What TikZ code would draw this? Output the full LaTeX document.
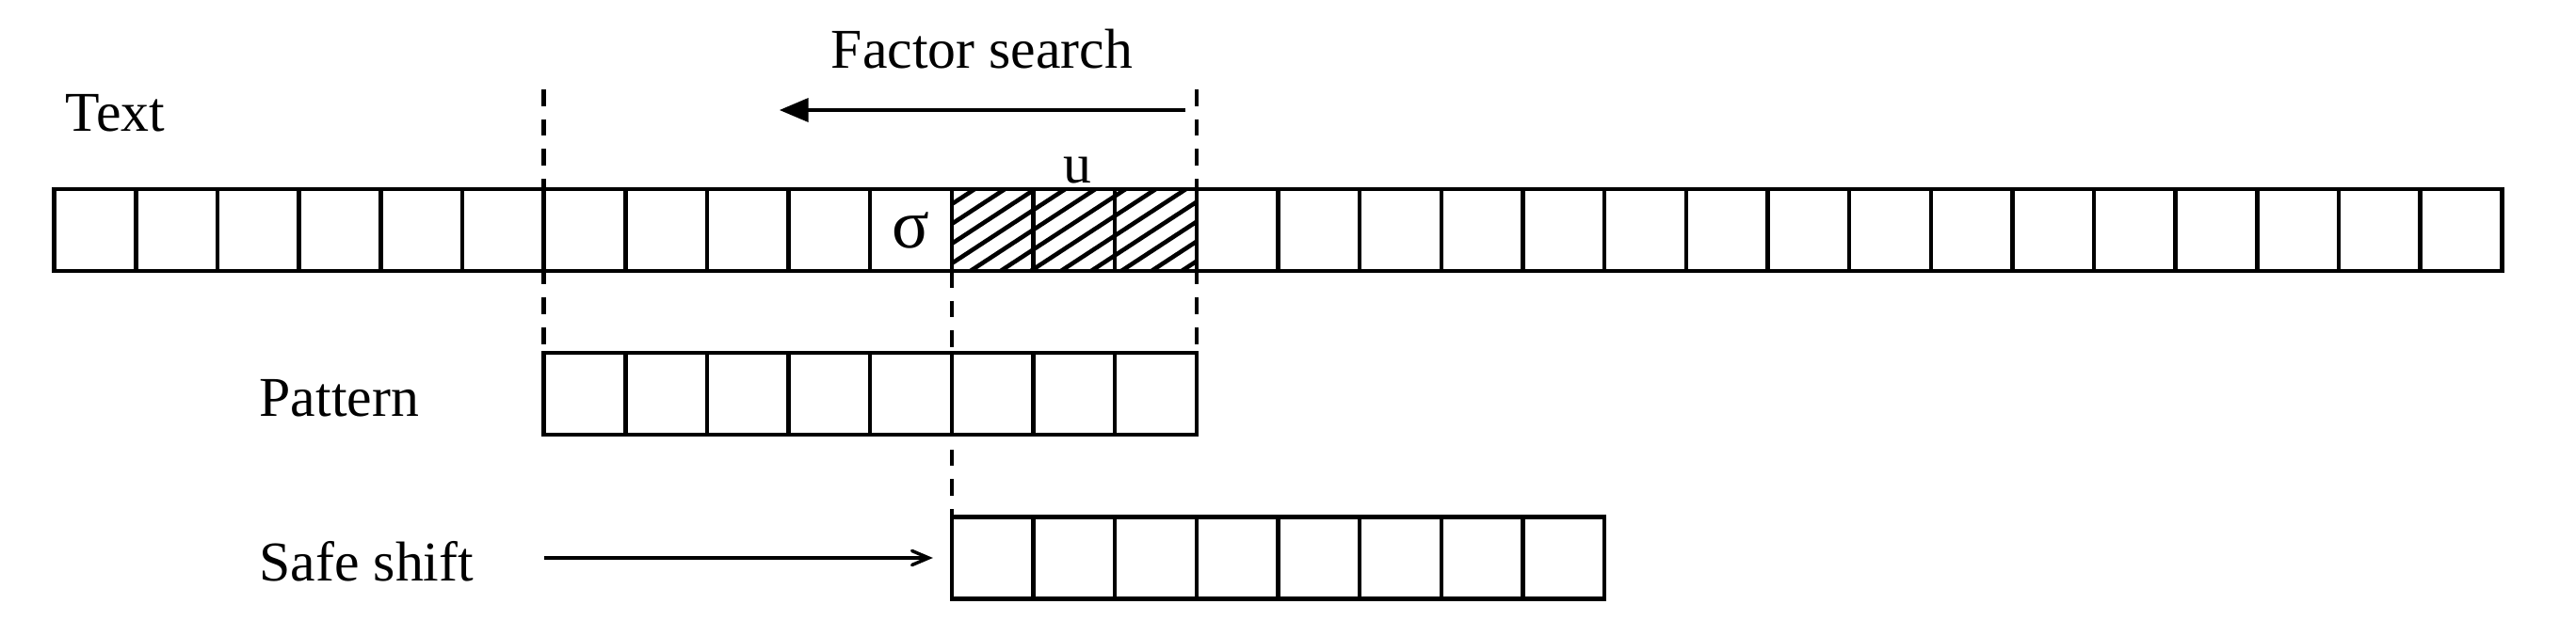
\documentclass[tikz,border=0pt]{standalone}
\usepackage{fontspec}
\setmainfont{Liberation Serif}
\usetikzlibrary{positioning}
\usetikzlibrary{arrows}

\begin{document}
\begin{tikzpicture}[
    font=\fontsize{17}{20}\selectfont,
    cell/.style={draw, rectangle, line width=1.3pt, minimum width=0.8666cm, minimum height=0.87cm, inner sep=0pt, outer sep=0pt},
    guide/.style={line width=1.2pt, dash pattern=on 5pt off 4pt}]

  \useasboundingbox (0,0) rectangle (27.36,6.75);

  % Define nodes
  \foreach \i in {0,...,29}
    \node[cell] (t\i) at ({0.576+(\i+0.5)*0.8666}, 4.305) {};
  \foreach \i in {0,...,7}
    \node[cell] (p\i) at ({0.576+(\i+6.5)*0.8666}, 2.565) {};
  \foreach \i in {0,...,7}
    \node[cell] (s\i) at ({0.576+(\i+11.5)*0.8666}, 0.82) {};

  \node[font=\fontsize{21}{24}\selectfont] (sigma) at (t10) {σ};
  \node[anchor=base, inner sep=0pt] (u) at ([xshift=0.04cm, yshift=0.06cm]t12.north) {u};
  \node[anchor=base west, inner sep=0pt] (text) at (0.69, 5.35) {Text};
  \node[anchor=base west, inner sep=0pt] (pattern) at (2.75, 2.32) {Pattern};
  \node[anchor=base west, inner sep=0pt] (shift) at (2.75, 0.58) {Safe shift};
  \node[anchor=base, inner sep=0pt] (factor) at (10.43, 6.02) {Factor search};

  \coordinate (lefttop) at (p0.north west |- 0,5.80);
  \coordinate (righttop) at (p7.north east |- 0,5.80);
  \coordinate (searchfrom) at (12.59, 5.58);
  \coordinate (searchto) at (8.28, 5.58);
  \coordinate (shiftfrom) at (p0.west |- s0.west);

  % Hatching of u
  \begin{scope}
    \clip (t11.south west) rectangle (t13.north east);
    \foreach \k in {0,...,12}
      \draw[line width=1.3pt] ([yshift={\k*0.21cm-1.6cm}]t11.south west) -- ++(2.9,1.9);
  \end{scope}

  % Connect the nodes
  \draw[guide] (lefttop) -- (p0.north west);
  \draw[guide] (righttop) -- (p7.north east);
  \draw[guide] (t11.south west) -- (s0.north west);
  \draw[->, >={triangle 45}, line width=1pt] (searchfrom) -- (searchto);
  \draw[->, >={angle 45}, line width=1pt, shorten >=0.2cm] (shiftfrom) -- (s0.west);

\end{tikzpicture}
\end{document}
